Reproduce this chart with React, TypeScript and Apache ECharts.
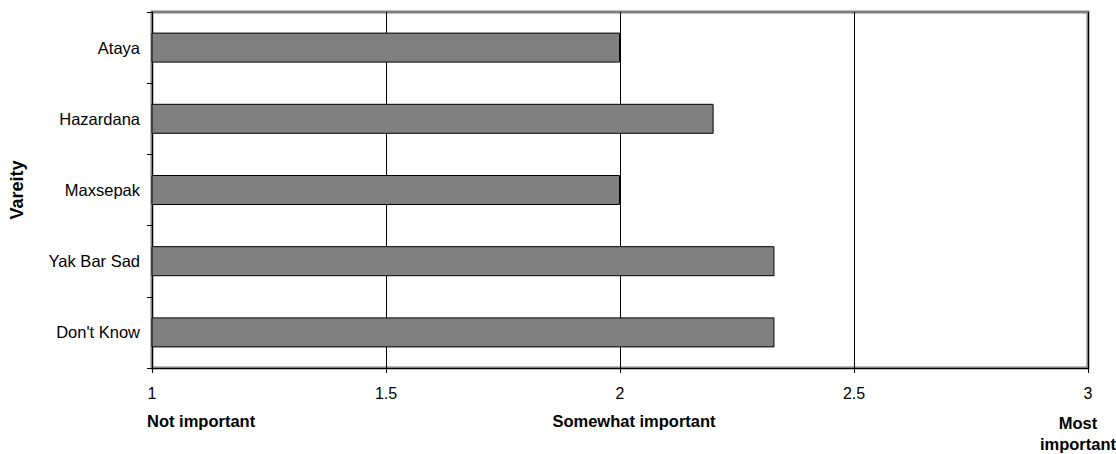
import React, { useEffect, useRef } from "react";
import * as echarts from "echarts";

const categories = ["Ataya", "Hazardana", "Maxsepak", "Yak Bar Sad", "Don't Know"];
const values = [2.0, 2.2, 2.0, 2.33, 2.33];
const xTicks = [1, 1.5, 2, 2.5, 3];
const scaleNotes = ["Not important", "Somewhat important", "Most\nimportant"];
const yAxisTitle = "Vareity";

const FONT = "'Liberation Sans', Arial, sans-serif";

export default function App() {
  const ref = useRef<HTMLDivElement>(null);
  useEffect(() => {
    if (!ref.current) return;
    const chart = echarts.init(ref.current, undefined, { renderer: "svg" });
    chart.setOption({
      animation: false,
      backgroundColor: "#ffffff",
      grid: {
        left: 146,
        top: 12,
        width: 942,
        height: 356,
        show: true,
        borderColor: "#808080",
        borderWidth: 3,
        backgroundColor: "#ffffff",
      },
      xAxis: {
        type: "value",
        min: xTicks[0],
        max: xTicks[xTicks.length - 1],
        interval: 0.5,
        axisLine: { show: true, lineStyle: { color: "#000", width: 1 } },
        axisTick: { show: true, length: 5, lineStyle: { color: "#000" } },
        splitLine: { show: true, lineStyle: { color: "#000", width: 1 } },
        axisLabel: {
          color: "#000",
          fontFamily: FONT,
          fontSize: 16,
          margin: 17,
          formatter: (v: number) => String(v),
        },
      },
      yAxis: {
        type: "category",
        data: categories,
        inverse: true,
        name: yAxisTitle,
        nameLocation: "middle",
        nameRotate: 90,
        nameGap: 126,
        nameTextStyle: { color: "#000", fontFamily: FONT, fontSize: 18, fontWeight: "bold" },
        axisLine: { show: true, lineStyle: { color: "#000", width: 1 } },
        axisTick: { show: true, length: 5, alignWithLabel: false, lineStyle: { color: "#000" } },
        axisLabel: { color: "#000", fontFamily: FONT, fontSize: 16.5, margin: 12 },
        splitLine: { show: false },
      },
      series: [
        {
          type: "bar",
          data: values,
          barWidth: 30,
          itemStyle: { color: "#808080", borderColor: "#000", borderWidth: 1 },
        },
      ],
      graphic: [
        {
          type: "text",
          x: 147,
          y: 412,
          style: { text: scaleNotes[0], fill: "#000", font: `bold 16.5px ${FONT}`, textAlign: "left" },
        },
        {
          type: "text",
          x: 634,
          y: 412,
          style: { text: scaleNotes[1], fill: "#000", font: `bold 16.5px ${FONT}`, textAlign: "center" },
        },
        {
          type: "text",
          x: 1078,
          y: 412,
          style: {
            text: scaleNotes[2],
            fill: "#000",
            font: `bold 16.5px ${FONT}`,
            textAlign: "center",
            lineHeight: 21,
          },
        },
      ],
    });
    return () => chart.dispose();
  }, []);
  return (
    <div
      ref={ref}
      style={{ position: "fixed", left: 0, top: 0, width: 1116, height: 454, background: "#fff" }}
    />
  );
}
